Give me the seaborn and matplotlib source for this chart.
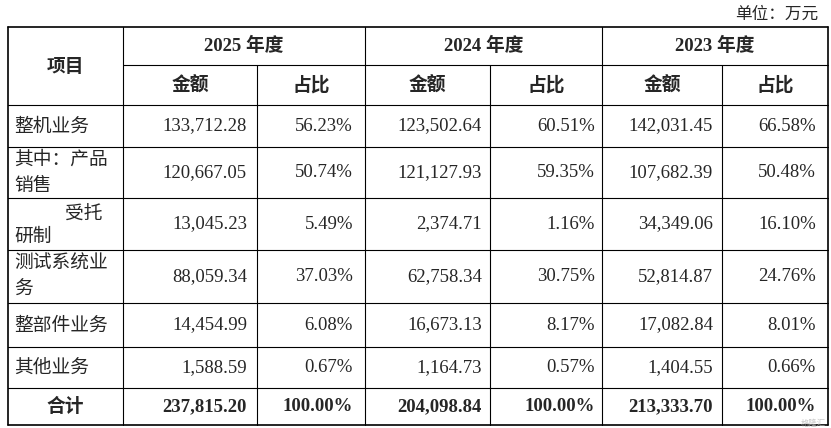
import matplotlib
matplotlib.use("Agg")
import matplotlib.pyplot as plt
import seaborn as sns

sns.set_theme(style="white")
plt.rcParams['font.family'] = ['Liberation Serif', 'Noto Sans CJK SC']

years = ["2025 年度", "2024 年度", "2023 年度"]
row_labels = ["整机业务", "其中：产品\n销售", "受托\n研制", "测试系统业\n务", "整部件业务", "其他业务", "合计"]
amt_2025 = ["133,712.28", "120,667.05", "13,045.23", "88,059.34", "14,454.99", "1,588.59", "237,815.20"]
pct_2025 = ["56.23%", "50.74%", "5.49%", "37.03%", "6.08%", "0.67%", "100.00%"]
amt_2024 = ["123,502.64", "121,127.93", "2,374.71", "62,758.34", "16,673.13", "1,164.73", "204,098.84"]
pct_2024 = ["60.51%", "59.35%", "1.16%", "30.75%", "8.17%", "0.57%", "100.00%"]
amt_2023 = ["142,031.45", "107,682.39", "34,349.06", "52,814.87", "17,082.84", "1,404.55", "213,333.70"]
pct_2023 = ["66.58%", "50.48%", "16.10%", "24.76%", "8.01%", "0.66%", "100.00%"]

fig = plt.figure(figsize=(8.31, 4.28), dpi=100)
ax = fig.add_axes([0, 0, 1, 1])
ax.set_xlim(0, 831); ax.set_ylim(428, 0); ax.axis("off")

xs = [8, 123, 257, 365, 490, 602, 722, 828]
ys = [27, 65, 105, 147, 198, 250, 303, 347, 388, 425]
lc = "black"
for y in [27, 105, 147, 198, 250, 303, 347, 388, 425]:
    ax.plot([8, 828], [y, y], color=lc, lw=1.2 if y in (27, 425) else 0.8)
ax.plot([123, 828], [65, 65], color=lc, lw=0.8)
for x in xs:
    if x in (257, 490, 722):
        ax.plot([x, x], [65, 425], color=lc, lw=0.8)
    else:
        ax.plot([x, x], [27, 425], color=lc, lw=1.2 if x in (8, 828) else 0.8)

fs = 13.5
cjk = ['Noto Sans CJK SC', 'Liberation Serif']
ax.text(818, 14, "单位：万元", ha="right", va="center", fontsize=12, family=cjk)
ax.text(65, 66, "项目", ha="center", va="center", fontsize=fs, weight="bold", family=cjk)
for i, yr in enumerate(years):
    xc = (xs[1 + 2*i] + xs[3 + 2*i]) / 2
    ax.text(xc, 46, yr, ha="center", va="center", fontsize=fs, weight="bold", family=['Liberation Serif', 'Noto Sans CJK SC'])
    ax.text((xs[1+2*i] + xs[2+2*i]) / 2, 85, "金额", ha="center", va="center", fontsize=fs, weight="bold", family=cjk)
    ax.text((xs[2+2*i] + xs[3+2*i]) / 2, 85, "占比", ha="center", va="center", fontsize=fs, weight="bold", family=cjk)

cols = [(amt_2025, 247), (pct_2025, 353), (amt_2024, 482), (pct_2024, 595), (amt_2023, 713), (pct_2023, 816)]
for r in range(7):
    yc = (ys[r+2] + ys[r+3]) / 2
    bold = r == 6
    lab = row_labels[r]
    if r == 2:
        ax.text(103, yc - 10, "受托", ha="right", va="center", fontsize=fs, family=cjk)
        ax.text(14, yc + 12, "研制", ha="left", va="center", fontsize=fs, family=cjk)
    elif r == 6:
        ax.text(65, yc, lab, ha="center", va="center", fontsize=fs, weight="bold", family=cjk)
    else:
        ax.text(14, yc, lab, ha="left", va="center", fontsize=fs, family=cjk, linespacing=1.3)
    for vals, xr in cols:
        ax.text(xr, yc, vals[r], ha="right", va="center", fontsize=fs,
                weight="bold" if bold else "normal", family=['Liberation Serif'])

ax.text(826, 423, "格隆汇", ha="right", va="center", fontsize=6, color="#bbbbbb", family=cjk, alpha=0.8)
fig.savefig("out.png", dpi=100, facecolor="white")
